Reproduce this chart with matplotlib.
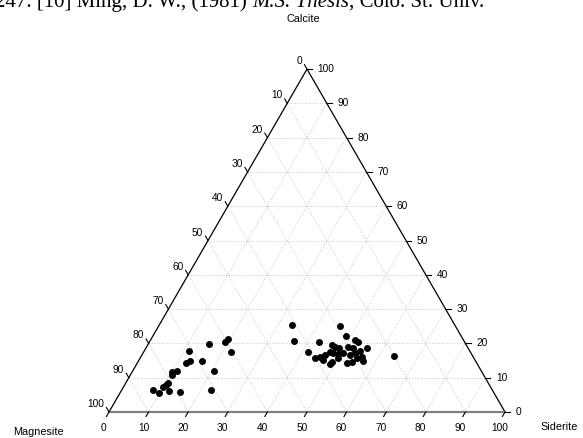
import numpy as np
import matplotlib
matplotlib.use("Agg")
import matplotlib.pyplot as plt

# ---- data (percent) ----
calcite = [19.8, 20.4, 21.3, 17.5, 17.8, 14.9, 14.3, 14.9, 12.0, 11.7,
           12.0, 10.8, 7.9, 7.3, 8.5, 6.1, 6.4, 5.5, 5.8, 6.4,
           25.4, 20.7, 25.1, 22.2, 20.4, 17.5, 21.0, 20.4, 18.7, 19.5,
           19.0, 18.7, 19.0, 18.7, 17.8, 15.7, 16.0, 16.6, 17.5, 17.2,
           16.9, 17.2, 14.0, 14.6, 14.3, 14.6, 15.7, 16.0, 14.9, 16.3,
           16.6, 17.2, 15.2, 15.7]
siderite = [15.3, 19.1, 19.4, 22.1, 11.3, 16.0, 12.3, 13.0, 20.5, 10.1,
            11.2, 10.5, 10.5, 10.0, 10.7, 12.1, 7.9, 9.9, 15.0, 22.6,
            33.5, 36.4, 45.8, 48.8, 42.8, 41.5, 51.6, 52.7, 55.8, 46.6,
            47.6, 48.8, 50.9, 52.3, 54.5, 44.2, 45.3, 46.2, 47.1, 48.0,
            49.4, 50.5, 48.8, 49.0, 53.0, 54.1, 54.8, 55.9, 56.7, 63.9,
            52.6, 53.5, 46.4, 50.0]
magnesite = [64.9, 60.5, 59.3, 60.4, 70.9, 69.1, 73.4, 72.1, 67.5, 78.2,
             76.8, 78.7, 81.6, 82.7, 80.8, 81.8, 85.7, 84.6, 79.2, 71.0,
             41.1, 42.9, 29.1, 29.0, 36.8, 41.0, 27.4, 26.9, 25.5, 33.9,
             33.4, 32.5, 30.1, 29.0, 27.7, 40.1, 38.7, 37.2, 35.4, 34.8,
             33.7, 32.3, 37.2, 36.4, 32.7, 31.3, 29.5, 28.1, 28.4, 19.8,
             30.8, 29.3, 38.4, 34.3]
tick_values = [0, 10, 20, 30, 40, 50, 60, 70, 80, 90, 100]
top_label = "Calcite"
left_label = "Magnesite"
right_label = "Siderite"

H = np.sqrt(3) / 2


def to_xy(c, s, m):
    c = np.asarray(c, float); s = np.asarray(s, float); m = np.asarray(m, float)
    tot = c + s + m
    c = 100 * c / tot; s = 100 * s / tot
    return s + c / 2, c * H


W, Hpx = 583, 438
fig = plt.figure(figsize=(W / 100, Hpx / 100), dpi=100)
ax = fig.add_axes([0, 0, 1, 1])
sc = 3.96
x0, y0 = 109, 412
ax.set_xlim(-x0 / sc, (W - x0) / sc)
ax.set_ylim((y0 - Hpx) / sc, y0 / sc)
ax.axis('off')

font = ['Liberation Sans', 'DejaVu Sans']
tfs = 7.3
grid_kw = dict(color='#b8b8b8', lw=0.6, ls=(0, (1, 2)), zorder=1)

# grid
for v in tick_values[1:-1]:
    xa, ya = to_xy(v, 0, 100 - v); xb, yb = to_xy(v, 100 - v, 0)
    ax.plot([xa, xb], [ya, yb], **grid_kw)
    xa, ya = to_xy(0, v, 100 - v); xb, yb = to_xy(100 - v, v, 0)
    ax.plot([xa, xb], [ya, yb], **grid_kw)
    xa, ya = to_xy(0, 100 - v, v); xb, yb = to_xy(100 - v, 0, v)
    ax.plot([xa, xb], [ya, yb], **grid_kw)

# triangle edges
ax.plot([0, 50, 100], [0, 100 * H, 0], color='black', lw=0.9, zorder=3)
ax.plot([0, 100], [0, 0], color='#808080', lw=1.6, zorder=3)

L = 1.3
for v in tick_values:
    # bottom (siderite)
    x, y = to_xy(0, v, 100 - v)
    ax.plot([x, x - 0.5 * L], [y, y - H * L], color='black', lw=0.8, zorder=3)
    ax.text(x - 1.3, y - 4.0, str(v), ha='center', va='center', fontsize=tfs, family=font)
    # left (magnesite)
    x, y = to_xy(100 - v, 0, v)
    ax.plot([x, x - 0.5 * L], [y, y + H * L], color='black', lw=0.8, zorder=3)
    ax.text(x - 1.2, y + 2.0, str(v), ha='right', va='center', fontsize=tfs, family=font)
    # right (calcite)
    x, y = to_xy(v, 100 - v, 0)
    ax.plot([x, x + L], [y, y], color='black', lw=0.8, zorder=3)
    ax.text(x + 2.7, y, str(v), ha='left', va='center', fontsize=tfs, family=font)

# points
px, py = to_xy(calcite, siderite, magnesite)
ax.plot(px, py, 'o', color='black', ms=5.0, mec='black', mew=0, zorder=5)

# axis titles (figure pixel positions)
fig.text(303 / W, 1 - 19 / Hpx, top_label, ha='center', va='center', fontsize=7.8, family=font)
fig.text(38 / W, 1 - 432 / Hpx, left_label, ha='center', va='center', fontsize=7.8, family=font)
fig.text(559 / W, 1 - 427 / Hpx, right_label, ha='center', va='center', fontsize=7.8, family=font)

# clipped caption line at top (as in the reference)
segs = [("247. [10] Ming, D. W., (1981) ", 'normal'),
        ("M.S. Thesis", 'italic'),
        (", Colo. St. Univ.", 'normal')]
fig.canvas.draw()
r = fig.canvas.get_renderer()
xpos = -5
for txt, st in segs:
    t = fig.text(xpos / W, 1 - 7 / Hpx, txt, ha='left', va='baseline', fontsize=15,
                 family=['Liberation Serif', 'DejaVu Serif'], style=st)
    bb = t.get_window_extent(renderer=r)
    xpos += bb.width

fig.savefig('out.png', dpi=100)
